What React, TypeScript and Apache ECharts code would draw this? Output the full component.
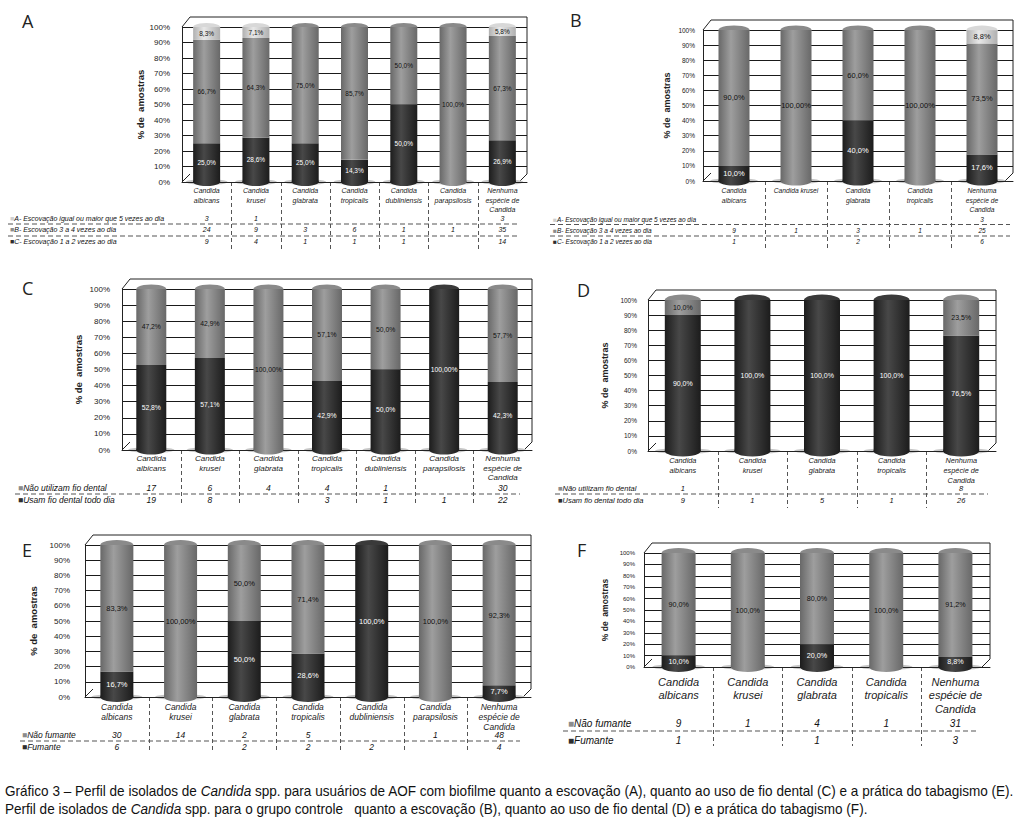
import React, { useEffect, useRef } from "react";
import * as echarts from "echarts";

const FONT = '"Liberation Sans", Arial, sans-serif';
const LETTER_FONT = '"Open Sans", "Noto Sans", sans-serif';

// ---------- categories ----------
const CATS_7 = [
  "Candida\nalbicans",
  "Candida\nkrusei",
  "Candida\nglabrata",
  "Candida\ntropicalis",
  "Candida\ndubliniensis",
  "Candida\nparapsilosis",
  "Nenhuma\nespécie de\nCandida",
];
const CATS_5 = ["Candida\nalbicans", "Candida\nkrusei", "Candida\nglabrata", "Candida\ntropicalis", "Nenhuma\nespécie de\nCandida"];
const CATS_5B = ["Candida\nalbicans", "Candida krusei", "Candida\nglabrata", "Candida\ntropicalis", "Nenhuma\nespécie de\nCandida"];

// ---------- row names ----------
const BRUSH_ROWS = [
  "A- Escovação igual ou maior que 5 vezes ao dia",
  "B- Escovação 3 a 4 vezes ao dia",
  "C- Escovação 1 a 2 vezes ao dia",
];
const FLOSS_ROWS = ["Não utilizam fio dental", "Usam fio dental todo dia"];
const SMOKE_ROWS = ["Não fumante", "Fumante"];

// ---------- Panel A (AOF, escovação) ----------
const A_LIGHT = [8.3, 7.1, 0, 0, 0, 0, 5.8];
const A_MID = [66.7, 64.3, 75.0, 85.7, 50.0, 100.0, 67.3];
const A_DARK = [25.0, 28.6, 25.0, 14.3, 50.0, 0, 26.9];
const A_N_LIGHT = ["3", "1", "", "", "", "", "3"];
const A_N_MID = ["24", "9", "3", "6", "1", "1", "35"];
const A_N_DARK = ["9", "4", "1", "1", "1", "", "14"];

// ---------- Panel B (controle, escovação) ----------
const B_LIGHT = [0, 0, 0, 0, 8.8];
const B_MID = [90.0, 100.0, 60.0, 100.0, 73.5];
const B_DARK = [10.0, 0, 40.0, 0, 17.6];
const B_N_LIGHT = ["", "", "", "", "3"];
const B_N_MID = ["9", "1", "3", "1", "25"];
const B_N_DARK = ["1", "", "2", "", "6"];

// ---------- Panel C (AOF, fio dental) ----------
const C_MID = [47.2, 42.9, 100.0, 57.1, 50.0, 0, 57.7];
const C_DARK = [52.8, 57.1, 0, 42.9, 50.0, 100.0, 42.3];
const C_N_MID = ["17", "6", "4", "4", "1", "", "30"];
const C_N_DARK = ["19", "8", "", "3", "1", "1", "22"];

// ---------- Panel D (controle, fio dental) ----------
const D_MID = [10.0, 0, 0, 0, 23.5];
const D_DARK = [90.0, 100.0, 100.0, 100.0, 76.5];
const D_N_MID = ["1", "", "", "", "8"];
const D_N_DARK = ["9", "1", "5", "1", "26"];

// ---------- Panel E (AOF, tabagismo) ----------
const E_MID = [83.3, 100.0, 50.0, 71.4, 0, 100.0, 92.3];
const E_DARK = [16.7, 0, 50.0, 28.6, 100.0, 0, 7.7];
const E_N_MID = ["30", "14", "2", "5", "", "1", "48"];
const E_N_DARK = ["6", "", "2", "2", "2", "", "4"];

// ---------- Panel F (controle, tabagismo) ----------
const F_MID = [90.0, 100.0, 80.0, 100.0, 91.2];
const F_DARK = [10.0, 0, 20.0, 0, 8.8];
const F_N_MID = ["9", "1", "4", "1", "31"];
const F_N_DARK = ["1", "", "1", "", "3"];

// labels printed with two decimals ("100,00%")
const TWO_DECIMALS: Record<string, number[]> = {
  "B-mid": [1, 3],
  "C-mid": [2],
  "C-dark": [5],
  "E-mid": [1],
};

const Y_TITLE = "% de  amostras";
const CAPTION_1 =
  "Gráfico 3 – Perfil de isolados de {i|Candida} spp. para usuários de AOF com biofilme quanto a escovação (A), quanto ao uso de fio dental (C) e a prática do tabagismo (E).";
const CAPTION_2 =
  "Perfil de isolados de {i|Candida} spp. para o grupo controle   quanto a escovação (B), quanto ao uso de fio dental (D) e a prática do tabagismo (F).";

type Tone = "dark" | "mid" | "light";
type Seg = { tone: Tone; values: number[]; counts: string[]; label: string };
type Panel = { id: string; cats: string[]; segs: Seg[] };

const PANELS: Panel[] = [
  {
    id: "A",
    cats: CATS_7,
    segs: [
      { tone: "dark", values: A_DARK, counts: A_N_DARK, label: BRUSH_ROWS[2] },
      { tone: "mid", values: A_MID, counts: A_N_MID, label: BRUSH_ROWS[1] },
      { tone: "light", values: A_LIGHT, counts: A_N_LIGHT, label: BRUSH_ROWS[0] },
    ],
  },
  {
    id: "B",
    cats: CATS_5B,
    segs: [
      { tone: "dark", values: B_DARK, counts: B_N_DARK, label: BRUSH_ROWS[2] },
      { tone: "mid", values: B_MID, counts: B_N_MID, label: BRUSH_ROWS[1] },
      { tone: "light", values: B_LIGHT, counts: B_N_LIGHT, label: BRUSH_ROWS[0] },
    ],
  },
  {
    id: "C",
    cats: CATS_7,
    segs: [
      { tone: "dark", values: C_DARK, counts: C_N_DARK, label: FLOSS_ROWS[1] },
      { tone: "mid", values: C_MID, counts: C_N_MID, label: FLOSS_ROWS[0] },
    ],
  },
  {
    id: "D",
    cats: CATS_5,
    segs: [
      { tone: "dark", values: D_DARK, counts: D_N_DARK, label: FLOSS_ROWS[1] },
      { tone: "mid", values: D_MID, counts: D_N_MID, label: FLOSS_ROWS[0] },
    ],
  },
  {
    id: "E",
    cats: CATS_7,
    segs: [
      { tone: "dark", values: E_DARK, counts: E_N_DARK, label: SMOKE_ROWS[1] },
      { tone: "mid", values: E_MID, counts: E_N_MID, label: SMOKE_ROWS[0] },
    ],
  },
  {
    id: "F",
    cats: CATS_5,
    segs: [
      { tone: "dark", values: F_DARK, counts: F_N_DARK, label: SMOKE_ROWS[1] },
      { tone: "mid", values: F_MID, counts: F_N_MID, label: SMOKE_ROWS[0] },
    ],
  },
];

// ---------- layout (pixels) ----------
type Lay = {
  left: number; w: number; top: number; bottom: number; bw: number;
  yMargin: number; ySize: number; titleX: number; titleSize: number;
  catSize: number; catLh: number; catMargin: number;
  rowYs: number[]; rowSize: number; rowX: number;
  dashYs: number[]; dashX: [number, number]; sepBottom: number;
  barLabel: number; letter: [number, number];
};
const LAYOUT: Record<string, Lay> = {
  A: { left: 182, w: 345, top: 27, bottom: 182, bw: 27, yMargin: 12, ySize: 8, titleX: 142, titleSize: 9.5,
    catSize: 7, catLh: 9.5, catMargin: 4, rowYs: [218, 229, 241], rowSize: 7, rowX: 10,
    dashYs: [224, 236], dashX: [8, 520], sepBottom: 250, barLabel: 6.5, letter: [22, 21] },
  B: { left: 703, w: 310, top: 30, bottom: 181, bw: 31, yMargin: 8, ySize: 6.5, titleX: 667, titleSize: 9,
    catSize: 6.7, catLh: 9.5, catMargin: 5, rowYs: [219, 230, 241], rowSize: 6.5, rowX: 553,
    dashYs: [224.5, 236], dashX: [550, 1010], sepBottom: 250, barLabel: 7.5, letter: [570, 20] },
  C: { left: 122, w: 410, top: 289, bottom: 450, bw: 30, yMargin: 12, ySize: 8, titleX: 78, titleSize: 9.5,
    catSize: 8, catLh: 9.5, catMargin: 4, rowYs: [488, 500], rowSize: 8.5, rowX: 18,
    dashYs: [494], dashX: [15, 520], sepBottom: 506, barLabel: 6.8, letter: [22, 288] },
  D: { left: 648, w: 348, top: 300, bottom: 451, bw: 36, yMargin: 11, ySize: 6.5, titleX: 605, titleSize: 9,
    catSize: 7.3, catLh: 10, catMargin: 4, rowYs: [488, 500], rowSize: 7.5, rowX: 558,
    dashYs: [494], dashX: [555, 988], sepBottom: 508, barLabel: 7, letter: [577, 290] },
  E: { left: 85, w: 446, top: 545, bottom: 697, bw: 33, yMargin: 15, ySize: 8, titleX: 33, titleSize: 9.5,
    catSize: 8.5, catLh: 10, catMargin: 5, rowYs: [735, 747], rowSize: 8.5, rowX: 22,
    dashYs: [741], dashX: [20, 520], sepBottom: 753, barLabel: 7.5, letter: [22, 550] },
  F: { left: 644, w: 346, top: 553, bottom: 667, bw: 34, yMargin: 9, ySize: 6, titleX: 605, titleSize: 8.5,
    catSize: 11, catLh: 13.5, catMargin: 8, rowYs: [723, 740], rowSize: 10, rowX: 568,
    dashYs: [731], dashX: [563, 977], sepBottom: 746, barLabel: 7.2, letter: [577, 550] },
};

const TONES: Record<Tone, { edge: string; mid: string; cap: string; text: string; mark: string }> = {
  dark: { edge: "#1c1c1c", mid: "#484848", cap: "#3a3a3a", text: "#ffffff", mark: "#2e2e2e" },
  mid: { edge: "#686868", mid: "#9e9e9e", cap: "#8a8a8a", text: "#111111", mark: "#8c8c8c" },
  light: { edge: "#b0b0b0", mid: "#e8e8e8", cap: "#d8d8d8", text: "#111111", mark: "#cfcfcf" },
};

function cyl(t: Tone) {
  const c = TONES[t];
  return new echarts.graphic.LinearGradient(0, 0, 1, 0, [
    { offset: 0, color: c.edge },
    { offset: 0.4, color: c.mid },
    { offset: 1, color: c.edge },
  ]);
}

function textWidth(text: string, font: string) {
  const ctx = document.createElement("canvas").getContext("2d");
  if (!ctx) return text.length * 7;
  ctx.font = font;
  return ctx.measureText(text).width;
}

function buildOption() {
  const grid: any[] = [];
  const xAxis: any[] = [];
  const yAxis: any[] = [];
  const series: any[] = [];
  const graphic: any[] = [];

  PANELS.forEach((p, pi) => {
    const L = LAYOUT[p.id];
    const n = p.cats.length;
    const cw = L.w / n;
    const right = L.left + L.w;
    grid.push({ left: L.left, top: L.top, width: L.w, height: L.bottom - L.top, show: false });

    const catIdx = xAxis.length;
    xAxis.push({
      type: "category", gridIndex: pi, data: p.cats, boundaryGap: true,
      axisLine: { show: true, lineStyle: { color: "#222", width: 1 } },
      axisTick: { show: false }, splitLine: { show: false },
      axisLabel: { interval: 0, margin: L.catMargin, fontSize: L.catSize, lineHeight: L.catLh,
        fontStyle: "italic", fontFamily: FONT, color: "#222" },
    });

    const rows = [...p.segs].reverse();
    rows.forEach((s, ri) => {
      const lh = L.rowSize + 2;
      xAxis.push({
        type: "category", gridIndex: pi, data: p.cats, position: "bottom",
        axisLine: { show: false }, axisTick: { show: false }, splitLine: { show: false },
        axisLabel: { interval: 0, margin: L.rowYs[ri] - lh / 2 - L.bottom, fontSize: L.rowSize, lineHeight: lh,
          fontStyle: "italic", fontFamily: FONT, color: "#111",
          formatter: (_v: string, idx: number) => s.counts[idx] || "" },
      });
      graphic.push({
        type: "text", x: L.rowX, y: L.rowYs[ri], silent: true,
        style: {
          text: `{m|■}{t|${s.label}}`,
          verticalAlign: "middle",
          rich: {
            m: { fill: TONES[s.tone].mark, fontSize: L.rowSize, fontFamily: FONT },
            t: { fill: "#111", fontSize: L.rowSize, fontStyle: "italic", fontFamily: FONT },
          },
        },
      });
    });

    yAxis.push({
      type: "value", gridIndex: pi, min: 0, max: 100, interval: 10,
      axisLine: { show: true, lineStyle: { color: "#222" } },
      axisTick: { show: false },
      splitLine: { show: true, lineStyle: { color: "#1a1a1a", width: 1 } },
      axisLabel: { formatter: "{value}%", margin: L.yMargin, fontSize: L.ySize, fontFamily: FONT, color: "#222" },
      name: Y_TITLE, nameLocation: "middle", nameRotate: 90,
      nameGap: L.left - L.titleX - L.titleSize * 0.55,
      nameTextStyle: { fontSize: L.titleSize, fontWeight: "bold", fontFamily: FONT, color: "#222" },
    });

    const totals = p.cats.map((_, i) => p.segs.reduce((a, s) => a + s.values[i], 0));
    const topTone = p.cats.map((_, i) => {
      let t: Tone = "mid";
      p.segs.forEach((s) => { if (s.values[i] > 0) t = s.tone; });
      return t;
    });
    const botTone = p.cats.map((_, i) => {
      for (const s of p.segs) if (s.values[i] > 0) return s.tone;
      return "mid" as Tone;
    });
    const capH = Math.round(L.bw * 0.3);

    // floor shadow
    series.push({
      type: "pictorialBar", xAxisIndex: catIdx, yAxisIndex: pi, silent: true, z: 0,
      symbol: "circle", symbolSize: [L.bw * 1.55, 6], symbolPosition: "start", symbolOffset: [0, "50%"],
      barWidth: L.bw, barGap: "-100%",
      itemStyle: { color: "#c6c6c6" },
      data: totals,
    });
    // rounded bottom
    series.push({
      type: "pictorialBar", xAxisIndex: catIdx, yAxisIndex: pi, silent: true, z: 1,
      symbol: "circle", symbolSize: [L.bw, capH], symbolPosition: "start", symbolOffset: [0, "50%"],
      barWidth: L.bw, barGap: "-100%",
      data: totals.map((t, i) => ({ value: t, itemStyle: { color: cyl(botTone[i]) } })),
    });
    // top cap
    series.push({
      type: "pictorialBar", xAxisIndex: catIdx, yAxisIndex: pi, silent: true, z: 1,
      symbol: "circle", symbolSize: [L.bw, capH], symbolPosition: "end", symbolOffset: [0, "-50%"],
      barWidth: L.bw, barGap: "-100%",
      data: totals.map((t, i) => ({ value: t, itemStyle: { color: TONES[topTone[i]].cap } })),
    });

    p.segs.forEach((s) => {
      const tone = TONES[s.tone];
      const two = TWO_DECIMALS[`${p.id}-${s.tone}`] || [];
      series.push({
        type: "bar", xAxisIndex: catIdx, yAxisIndex: pi, stack: "st" + p.id, barWidth: L.bw, z: 2,
        data: s.values,
        itemStyle: { color: cyl(s.tone) },
        label: {
          show: true, position: "inside", fontSize: L.barLabel, fontFamily: FONT, color: tone.text,
          formatter: (prm: any) => {
            const v = prm.value as number;
            if (!v) return "";
            return v.toFixed(two.includes(prm.dataIndex) ? 2 : 1).replace(".", ",") + "%";
          },
        },
      });
    });

    // 3D-like frame: back-wall top edge, right edge and floor corners
    const d = 8;
    graphic.push({
      type: "polyline", silent: true, z: -1,
      shape: { points: [[L.left, L.top], [L.left + d, L.top - 10], [right, L.top - 10], [right, L.bottom - d], [right - d, L.bottom]] },
      style: { stroke: "#222", lineWidth: 1, fill: null },
    });
    graphic.push({
      type: "line", silent: true, z: -1,
      shape: { x1: L.left, y1: L.bottom, x2: L.left + d, y2: L.bottom - d },
      style: { stroke: "#222", lineWidth: 1 },
    });

    // table separators
    for (let i = 1; i < n; i++) {
      const x = Math.round(L.left + i * cw) + 0.5;
      graphic.push({
        type: "line", silent: true,
        shape: { x1: x, y1: L.bottom, x2: x, y2: L.sepBottom },
        style: { stroke: "#555", lineWidth: 1, lineDash: [4, 3] },
      });
    }
    L.dashYs.forEach((y) => {
      graphic.push({
        type: "line", silent: true,
        shape: { x1: L.dashX[0], y1: y, x2: L.dashX[1], y2: y },
        style: { stroke: "#555", lineWidth: 1.2, lineDash: [5, 3] },
      });
    });
    graphic.push({
      type: "text", x: L.letter[0], y: L.letter[1], silent: true,
      style: { text: p.id, fontSize: 18, fontFamily: LETTER_FONT, fill: "#222", verticalAlign: "middle" },
    });
  });

  // caption: condensed by horizontal scaling so line 1 spans the page width like the original
  const capFont = FONT;
  const plain1 = CAPTION_1.replace("{i|Candida}", "Candida");
  const w1 = textWidth(plain1, `15px ${capFont}`);
  const sx = Math.min(1, 1010 / w1);
  [CAPTION_1, CAPTION_2].forEach((c, i) => {
    graphic.push({
      type: "text", x: 5, y: 791 + i * 18, scaleX: sx, silent: true,
      style: {
        text: c, fontSize: 15, fontFamily: capFont, fill: "#111", verticalAlign: "middle",
        rich: { i: { fontStyle: "italic", fontSize: 15, fontFamily: capFont, fill: "#111" } },
      },
    });
  });

  return { animation: false, backgroundColor: "#ffffff", grid, xAxis, yAxis, series, graphic };
}

export default function App() {
  const ref = useRef<HTMLDivElement>(null);
  useEffect(() => {
    const chart = echarts.init(ref.current!, undefined, { renderer: "svg" });
    chart.setOption(buildOption() as any);
    return () => chart.dispose();
  }, []);
  return (
    <div
      ref={ref}
      style={{ position: "absolute", left: 0, top: 0, width: 1023, height: 830, background: "#fff" }}
    />
  );
}
